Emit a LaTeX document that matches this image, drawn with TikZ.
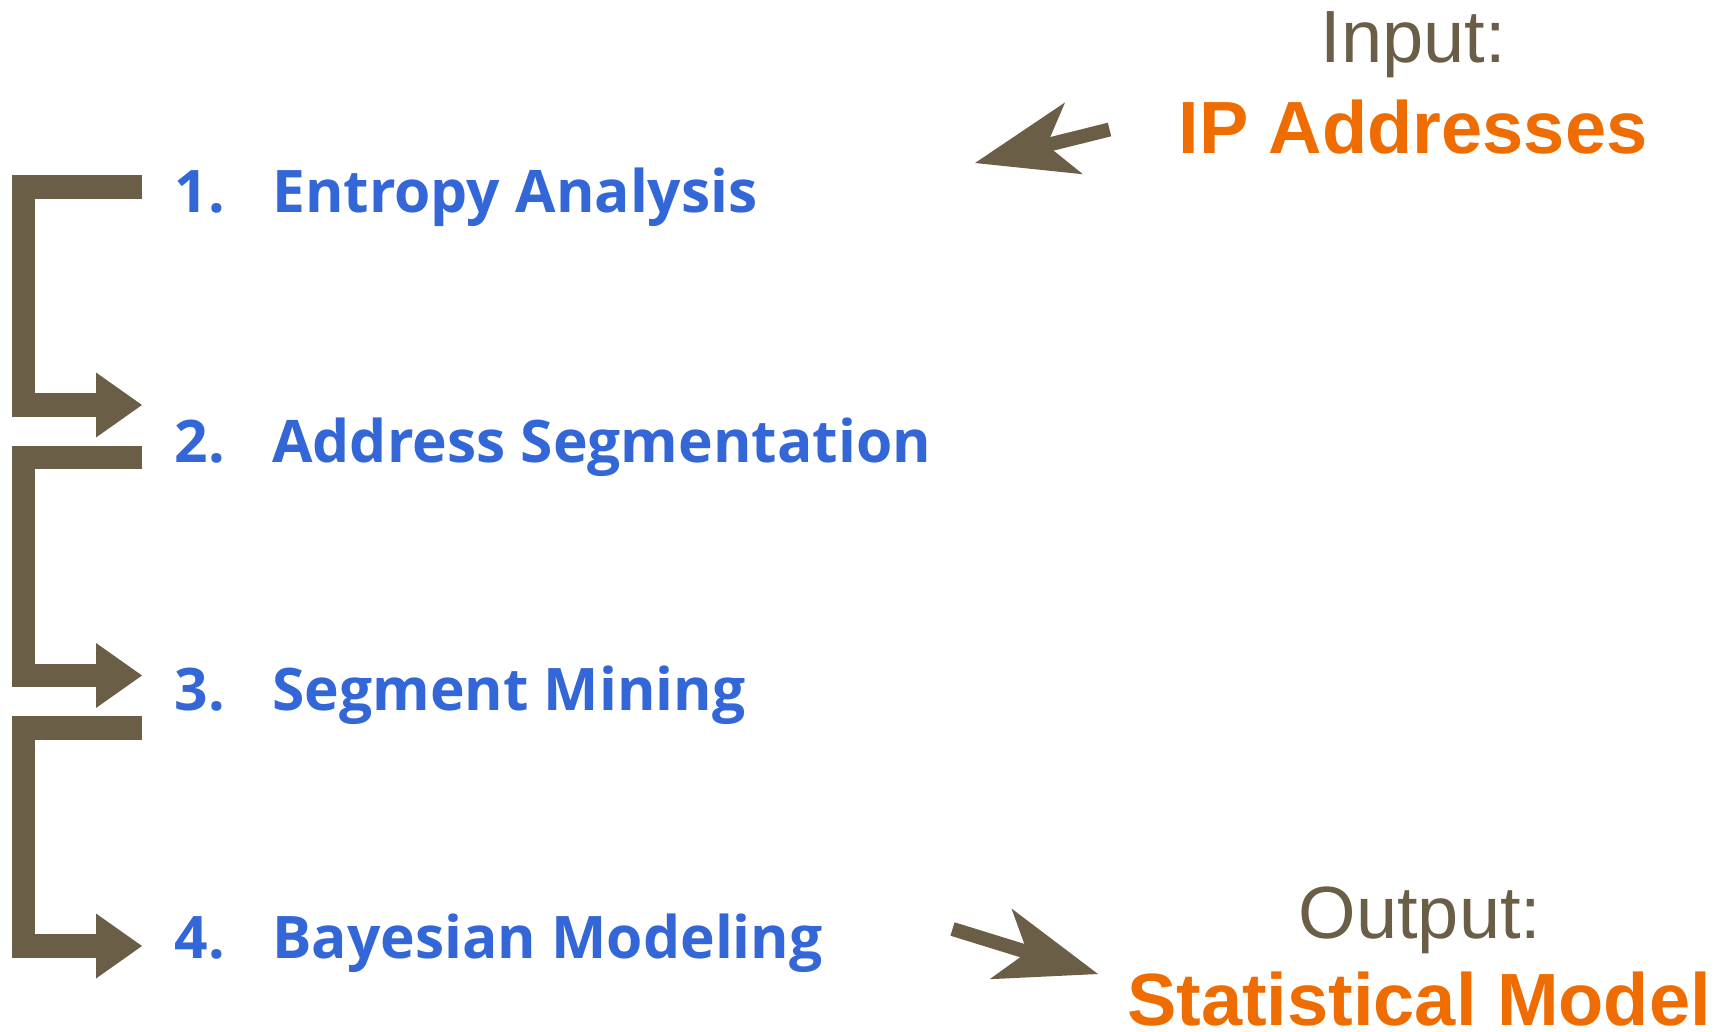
\documentclass[tikz,border=0pt]{standalone}
\usepackage{fontspec}
\setmainfont{Liberation Sans}
\newfontfamily\stepfont{Open Sans}
\usetikzlibrary{arrows.meta}
\definecolor{brownc}{HTML}{6B5E47}
\definecolor{bluec}{HTML}{3366D6}
\definecolor{orangec}{HTML}{EE6C00}
\tikzset{
  numtext/.style={anchor=base west, inner sep=0pt, text=bluec, font=\stepfont\bfseries\fontsize{58.7pt}{58.7pt}\selectfont},
  steptext/.style={anchor=base west, inner sep=0pt, text=bluec, font=\stepfont\bfseries\fontsize{58.7pt}{58.7pt}\selectfont},
  labeltext/.style={anchor=base, inner sep=0pt, text=brownc, font=\fontsize{74pt}{74pt}\selectfont},
  valuetext/.style={anchor=base, inner sep=0pt, text=orangec, font=\bfseries\fontsize{74pt}{74pt}\selectfont},
  bracketarrow/.style={draw=brownc, line width=23.5pt, line join=miter, line cap=butt,
    -{Triangle[length=46pt,width=65pt,line width=0pt]}, fill=none},
  blockarrow/.style={draw=brownc, line width=14pt, line cap=butt,
    -{Stealth[length=102pt,width=74pt,inset=28pt,line width=0pt]}}
}
\begin{document}
\begin{tikzpicture}[x=1pt,y=-1pt]
\useasboundingbox (0,0) rectangle (1727,1032);
% steps
\node[numtext] (n1) at (174.5,213) {1.};
\node[steptext] (s1) at (272,213) {Entropy Analysis};
\node[numtext] (n2) at (174.5,462) {2.};
\node[steptext] (s2) at (272,462) {Address Segmentation};
\node[numtext] (n3) at (174.5,710) {3.};
\node[steptext] (s3) at (272,710) {Segment Mining};
\node[numtext] (n4) at (174.5,958) {4.};
\node[steptext] (s4) at (272,958) {Bayesian Modeling};
% input / output
\node[labeltext] (inlab) at (1413,63) {Input:};
\node[valuetext] (inval) at (1413,154) {IP Addresses};
\node[labeltext] (outlab) at (1420,938) {Output:};
\node[valuetext] (outval) at (1419,1025) {Statistical Model};
% bracket coordinates
\coordinate (b1s) at (142,187);
\coordinate (b1e) at (142,405);
\coordinate (b2s) at (142,457.5);
\coordinate (b2e) at (142,675.5);
\coordinate (b3s) at (142,728);
\coordinate (b3e) at (142,946);
\draw[bracketarrow] (b1s) -- (23.5,187) -- (23.5,405) -- (b1e);
\draw[bracketarrow] (b2s) -- (23.5,457.5) -- (23.5,675.5) -- (b2e);
\draw[bracketarrow] (b3s) -- (23.5,728) -- (23.5,946) -- (b3e);
% block arrows
\coordinate (intail) at (1109.5,129.5);
\coordinate (intip) at (975,163);
\coordinate (outtail) at (952.5,929);
\coordinate (outtip) at (1098,974);
\draw[blockarrow] (intail) -- (intip);
\draw[blockarrow] (outtail) -- (outtip);
\end{tikzpicture}
\end{document}
